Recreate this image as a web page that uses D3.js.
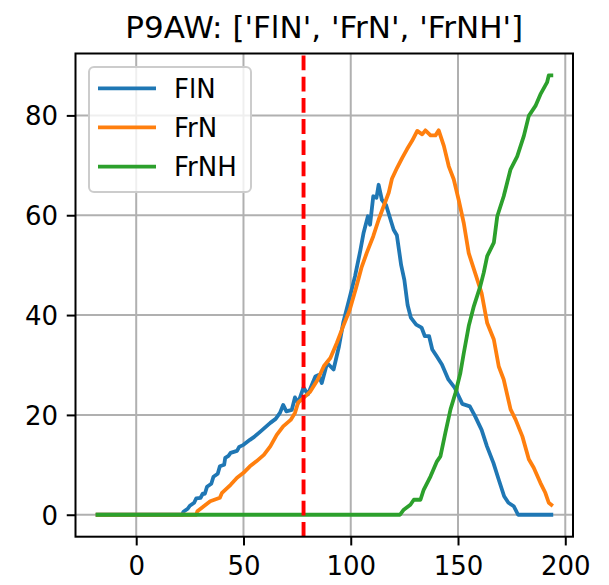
<!DOCTYPE html>
<html>
<head>
<meta charset="utf-8">
<script src="https://cdn.jsdelivr.net/npm/d3@7"></script>
<style>
  html, body { margin: 0; padding: 0; background: #ffffff; }
  svg { display: block; }
  text { font-family: "DejaVu Sans", sans-serif; fill: #000; }
</style>
</head>
<body>
<svg id="chart" width="609" height="585"></svg>
<script>
// ---- data ----
const title = "P9AW: ['FlN', 'FrN', 'FrNH']";
const seriesNames = ["FlN", "FrN", "FrNH"];
const seriesColors = ["#1f77b4", "#ff7f0e", "#2ca02c"];
const xTicks = [0, 50, 100, 150, 200];
const yTicks = [0, 20, 40, 60, 80];
const markerX = 78;

const flnX = [-18, 21.5, 22, 24, 25, 27, 28, 30, 31, 32, 33, 35, 36, 38, 39, 41, 41.5, 43, 44, 47, 48, 50, 53, 55, 58, 62.5, 65, 67, 68.5, 70, 72.5, 74, 75.5, 78, 80, 83.5, 85, 86.5, 89, 92, 94.5, 96.5, 99.5, 102, 104.5, 106, 108, 109, 110.5, 112, 113, 114.5, 116.5, 120, 121.5, 123.5, 125, 126.5, 128, 130.5, 133, 134.5, 136.5, 138, 140, 142.5, 145.5, 148.5, 152, 155.5, 158, 161, 163.5, 166.5, 169, 171.5, 173.5, 176, 178, 193.5];
const flnY = [0, 0, 0.6, 1.2, 1.8, 2.4, 3.3, 3.4, 4.2, 4.2, 5.6, 6.2, 7.6, 8.2, 9.7, 10, 11.4, 11.8, 12.4, 12.8, 13.6, 14, 15, 15.6, 16.7, 18.4, 19.2, 20.4, 22, 20.7, 21, 23.5, 22.4, 25.5, 24.1, 27.7, 28, 26.4, 30.4, 29.1, 33.7, 38.5, 43.5, 47.8, 53, 56.5, 59.8, 58.1, 63.8, 63.5, 66.1, 63.1, 62, 57.1, 56, 50, 47, 42, 39.5, 38.1, 37.5, 35.8, 35.8, 33.1, 31.8, 30.1, 27.1, 25.4, 22.2, 21.7, 19.7, 17, 13.7, 10.4, 7, 3.7, 2.4, 1.7, 0, 0];

const frnX = [-18, 28, 28.5, 31.5, 34.5, 39, 40, 41.5, 44, 47, 50, 53, 56, 59.5, 62.5, 65.5, 68.5, 72, 74, 75.5, 78, 81, 84.5, 87.5, 90.5, 93.5, 96.5, 99.5, 102.5, 105, 107.5, 110.5, 113, 115.5, 117.7, 119.2, 121.6, 124, 126.2, 128.6, 131, 133.3, 134.8, 137.2, 139.5, 141, 143.4, 145.7, 148, 150.3, 152.7, 155, 158, 161, 163.6, 166.7, 169, 171.3, 174.5, 176.8, 180, 183, 185.3, 188.4, 190.7, 192.3, 193.5];
const frnY = [0, 0, 0.7, 1.7, 2.7, 3.4, 4.4, 5, 6, 7.4, 8.4, 9.7, 10.7, 12, 13.7, 16, 17.7, 19, 20.4, 22.5, 23.4, 24.6, 27, 29.8, 31.4, 34.4, 37.8, 41, 45.5, 49.5, 52.5, 55.8, 59.1, 62, 64.5, 67.3, 69.5, 71.5, 73.2, 74.9, 76.9, 76.2, 77, 76, 76, 77, 73.9, 69.8, 67.2, 63.1, 58.4, 52.4, 48.4, 44.4, 38.4, 35.1, 29.7, 27.1, 21.1, 19.1, 15.7, 11.1, 9.4, 6.4, 4.4, 2.4, 2];

const frnhX = [-18, 123, 124.7, 127.8, 129.4, 132.5, 134, 137.2, 140.2, 141.8, 144.1, 146.5, 148.8, 151.1, 152.7, 155, 157.4, 160.4, 162, 163.6, 166.7, 168.3, 171.3, 174.5, 177.6, 180.7, 183, 186.1, 188.4, 191.5, 192.3, 193.5];
const frnhY = [0, 0, 1, 2, 3, 3, 5, 7.7, 10.7, 11.7, 16.4, 21.1, 24.4, 28.4, 32.4, 37.8, 41.8, 45.8, 48.5, 51.8, 54.5, 59.8, 63.8, 69.2, 71.8, 75.9, 79.9, 81.9, 84.2, 86.6, 88, 88];

const series = [
  { name: seriesNames[0], color: seriesColors[0], pts: d3.zip(flnX, flnY) },
  { name: seriesNames[1], color: seriesColors[1], pts: d3.zip(frnX, frnY) },
  { name: seriesNames[2], color: seriesColors[2], pts: d3.zip(frnhX, frnhY) }
];

// ---- layout ----
const L = 75.5, R = 573, T = 53.5, B = 536.7;
const x = d3.scaleLinear().domain([-28.3, 203.6]).range([L, R]);
const y = d3.scaleLinear().domain([-4.4, 92.4]).range([B, T]);

const svg = d3.select("#chart");
svg.append("rect").attr("width", 609).attr("height", 585).attr("fill", "#fff");

// grid
const grid = svg.append("g");
grid.selectAll("line.gx").data(xTicks).join("line")
  .attr("x1", d => x(d)).attr("x2", d => x(d)).attr("y1", T).attr("y2", B)
  .attr("stroke", "#b0b0b0").attr("stroke-width", 2);
grid.selectAll("line.gy").data(yTicks).join("line")
  .attr("class", "gy")
  .attr("x1", L).attr("x2", R).attr("y1", d => y(d)).attr("y2", d => y(d))
  .attr("stroke", "#b0b0b0").attr("stroke-width", 2);

// lines
svg.append("clipPath").attr("id", "clip").append("rect")
  .attr("x", L).attr("y", T).attr("width", R - L).attr("height", B - T);
const line = d3.line().x(d => x(d[0])).y(d => y(d[1]));
const plot = svg.append("g").attr("clip-path", "url(#clip)");
series.forEach(s => {
  plot.append("path").attr("d", line(s.pts))
    .attr("fill", "none").attr("stroke", s.color).attr("stroke-width", 3.8)
    .attr("stroke-linejoin", "round").attr("stroke-linecap", "square");
});
plot.append("path")
  .attr("d", `M${x(markerX)},${B}L${x(markerX)},${T}`)
  .attr("stroke", "#ff0000").attr("stroke-width", 3.9)
  .attr("stroke-dasharray", "14.8,6.4").attr("fill", "none");

// axes
const xAxis = d3.axisBottom(x).tickValues(xTicks).tickSize(8.75).tickPadding(5).tickFormat(d3.format("d"));
const yAxis = d3.axisLeft(y).tickValues(yTicks).tickSize(8.75).tickPadding(5).tickFormat(d3.format("d"));
const gx = svg.append("g").attr("transform", `translate(0,${B})`).call(xAxis);
const gy = svg.append("g").attr("transform", `translate(${L},0)`).call(yAxis);
[gx, gy].forEach(g => {
  g.select(".domain").remove();
  g.selectAll(".tick line").attr("stroke", "#000").attr("stroke-width", 2);
  g.selectAll(".tick text").attr("font-size", 26).attr("font-family", "DejaVu Sans").attr("fill", "#000");
});
gx.selectAll(".tick text").attr("y", 38.3).attr("dy", null);
gy.selectAll(".tick text").attr("x", -17.5).attr("dy", "0.36em");

// frame
svg.append("rect").attr("x", L).attr("y", T).attr("width", R - L).attr("height", B - T)
  .attr("fill", "none").attr("stroke", "#000").attr("stroke-width", 2);

// title
svg.append("text").attr("x", (L + R) / 2).attr("y", 38).attr("text-anchor", "middle")
  .attr("font-size", 31).text(title);

// legend
const lg = svg.append("g");
lg.append("rect").attr("x", 89).attr("y", 67).attr("width", 162).attr("height", 125)
  .attr("rx", 5).attr("ry", 5)
  .attr("fill", "#fff").attr("fill-opacity", 0.8)
  .attr("stroke", "#cccccc").attr("stroke-width", 2);
const rowY = [88.3, 127.3, 166.7];
series.forEach((s, i) => {
  lg.append("line").attr("x1", 98).attr("x2", 156).attr("y1", rowY[i]).attr("y2", rowY[i])
    .attr("stroke", s.color).attr("stroke-width", 3.8);
  lg.append("text").attr("x", 174).attr("y", rowY[i] + 9.5).attr("font-size", 26).text(s.name);
});
</script>
</body>
</html>
